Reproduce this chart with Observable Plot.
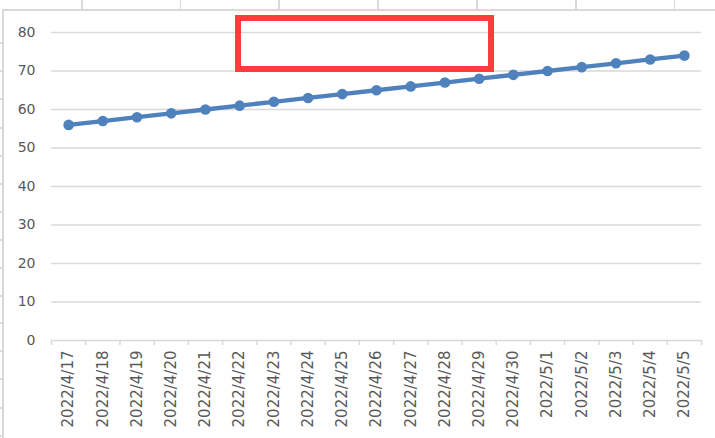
<!DOCTYPE html>
<html>
<head>
<meta charset="utf-8">
<script src="https://cdn.jsdelivr.net/npm/d3@7"></script>
<script src="https://cdn.jsdelivr.net/npm/@observablehq/plot@0.6"></script>
<style>
  html, body { margin: 0; padding: 0; background: #fff; }
  #wrap { position: relative; width: 715px; height: 438px; overflow: hidden; font-family: "DejaVu Sans", sans-serif; }
  #chart { position: absolute; left: 0; top: 0; }
  .deco { position: absolute; background: #d9d9d9; }
  #box { position: absolute; border: 6px solid #ff3b3b; box-sizing: border-box; }
</style>
</head>
<body>
<div id="wrap">
  <div id="chart"></div>
</div>
<script>
const dates = ["2022/4/17","2022/4/18","2022/4/19","2022/4/20","2022/4/21","2022/4/22","2022/4/23","2022/4/24","2022/4/25","2022/4/26","2022/4/27","2022/4/28","2022/4/29","2022/4/30","2022/5/1","2022/5/2","2022/5/3","2022/5/4","2022/5/5"];
const values = [56,57,58,59,60,61,62,63,64,65,66,67,68,69,70,71,72,73,74];
const yTicks = [0,10,20,30,40,50,60,70,80];

const data = dates.map((d, i) => ({i, date: d, value: values[i]}));
const idx = dates.map((d, i) => i);
const bounds = [-0.5, ...idx.map(i => i + 0.5)];
const grey = "#d9d9d9";
const blue = "#4f81bd";

const plot = Plot.plot({
  width: 715,
  height: 438,
  marginLeft: 51,
  marginRight: 14,
  marginTop: 32,
  marginBottom: 98,
  style: {fontFamily: "DejaVu Sans, sans-serif", background: "transparent", overflow: "visible"},
  x: {type: "linear", domain: [-0.5, dates.length - 0.5]},
  y: {domain: [0, 80]},
  marks: [
    Plot.gridY(yTicks.filter(v => v > 0), {stroke: grey, strokeOpacity: 1, strokeWidth: 1.3}),
    Plot.ruleY([0], {stroke: grey, strokeWidth: 1.5}),
    Plot.axisY(yTicks, {tickSize: 0, tickPadding: 16, fontSize: 14, fill: "#595959", label: null}),
    Plot.axisX(bounds, {tickSize: 5, stroke: grey, strokeWidth: 1.5, tickFormat: () => "", label: null}),
    Plot.axisX(idx, {tickSize: 0, tickPadding: 10, tickRotate: -90, tickFormat: i => dates[i], fontSize: 15, fill: "#595959", label: null}),
    Plot.line(data, {x: "i", y: "value", stroke: blue, strokeWidth: 4.3, strokeLinejoin: "round", strokeLinecap: "round"}),
    Plot.dot(data, {x: "i", y: "value", r: 5.3, fill: blue, stroke: "none"})
  ]
});
document.getElementById("chart").appendChild(plot);

// spreadsheet / chart-area decoration and red annotation box
const wrap = document.getElementById("wrap");
function deco(l, t, w, h) {
  const d = document.createElement("div");
  d.className = "deco";
  Object.assign(d.style, {left: l + "px", top: t + "px", width: w + "px", height: h + "px"});
  wrap.appendChild(d);
}
deco(2, 9, 713, 2);
deco(2, 9, 2, 429);
[81, 179.5, 278, 377, 476, 575, 673.5].forEach(x => deco(x, 0, 1.5, 9));
[42, 70, 98, 127, 155, 183, 211, 239, 267, 295, 322, 350, 378, 407, 435].forEach(y => deco(0, y, 2, 1.5));
const box = document.createElement("div");
box.id = "box";
Object.assign(box.style, {left: "235px", top: "15px", width: "259px", height: "57px"});
wrap.appendChild(box);
</script>
</body>
</html>
